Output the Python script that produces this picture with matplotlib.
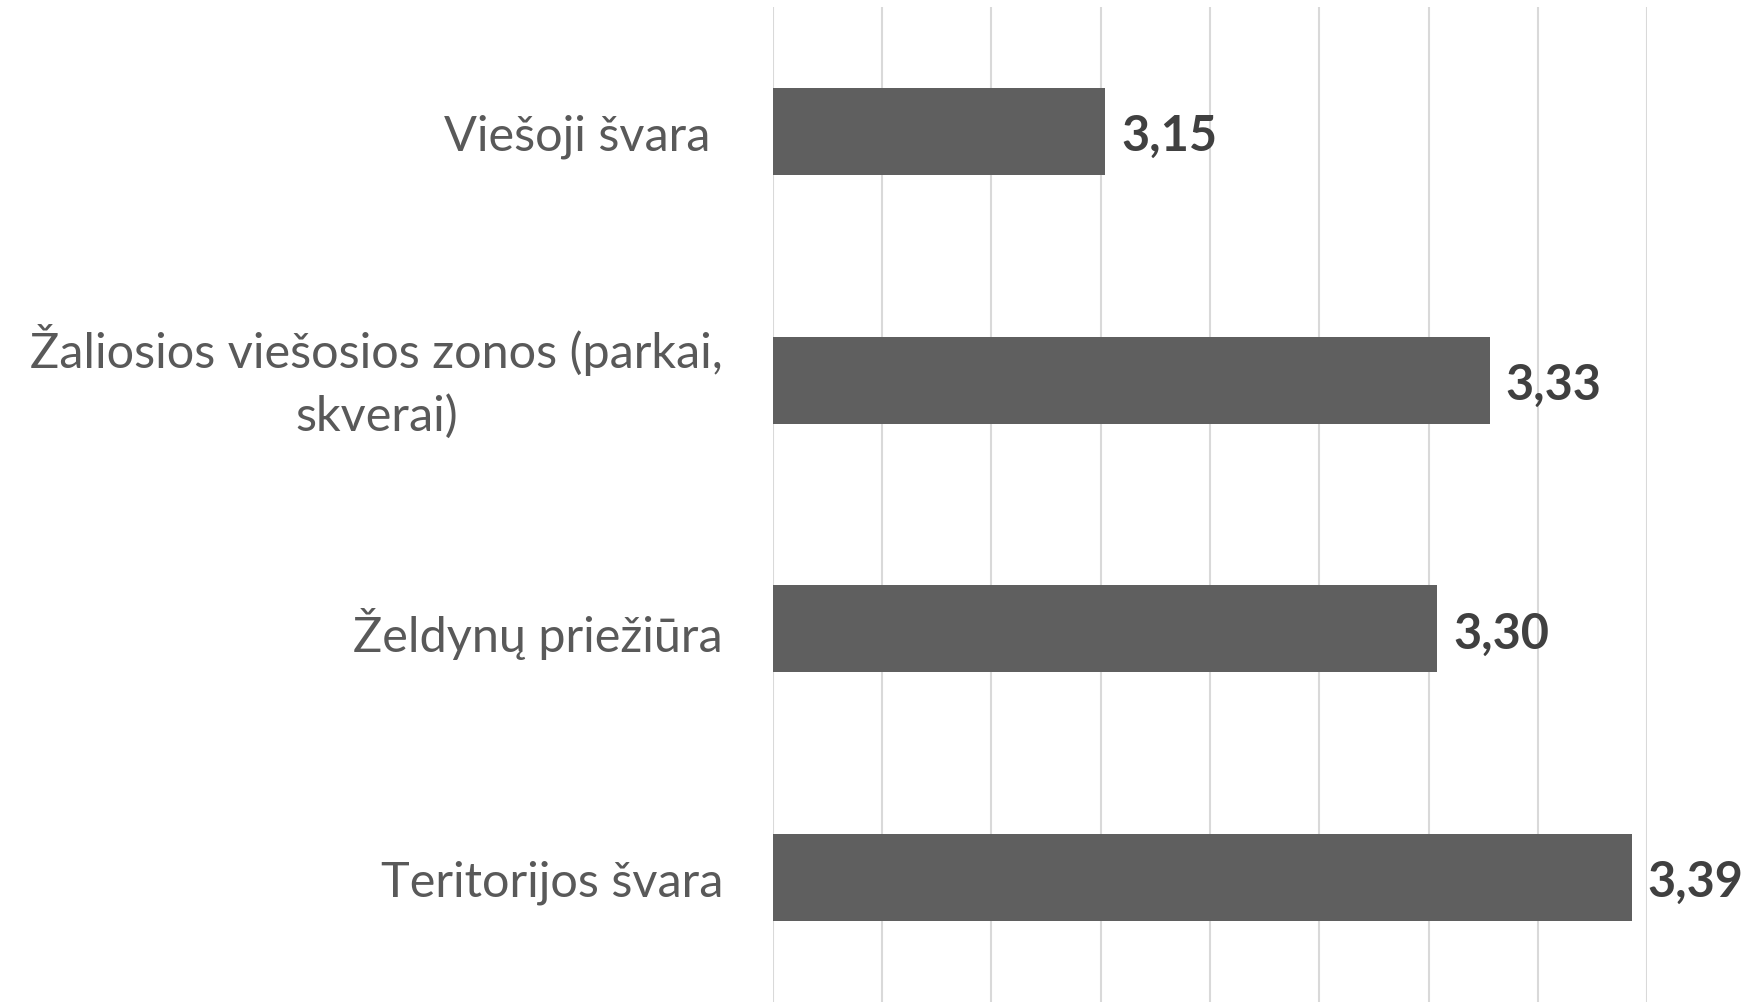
import numpy as np
import matplotlib.pyplot as plt

# Data
categories = ["Viešoji švara ", "Žaliosios viešosios zonos (parkai,\nskverai)",
              "Želdynų priežiūra", "Teritorijos švara"]
values = [3.152, 3.328, 3.304, 3.393]
labels = ["3,15", "3,33", "3,30", "3,39"]

bar_color = '#5f5f5f'
grid_color = '#d9d9d9'

plt.rcParams['font.family'] = ['Lato', 'DejaVu Sans']

fig = plt.figure(figsize=(17.44, 10.03), dpi=100)
ax = fig.add_axes([0.4432, 0.0, 0.5012, 0.992])

y = np.arange(len(categories))
ax.barh(y, np.array(values) - 3.0, left=3.0, height=0.35, color=bar_color, zorder=3)

# value labels next to bars
for yi, v, lab in zip(y, values, labels):
    ax.annotate(lab, xy=(v, yi), xytext=(11.5, -3), textcoords='offset points',
                va='center', ha='left', fontsize=35, fontweight='bold',
                color='#404040', annotation_clip=False)

ax.set_xlim(3.0, 3.4)
ax.set_ylim(3.5, -0.5)
ax.set_xticks(np.arange(3.0, 3.4001, 0.05))
ax.set_xticklabels([])
ax.tick_params(axis='x', length=0)
ax.grid(axis='x', color=grid_color, linewidth=1.5, zorder=0)

ax.set_yticks(y)
ax.set_yticklabels(categories, fontsize=35, color='#595959')
ax.tick_params(axis='y', length=0, pad=36)
for t in ax.get_yticklabels():
    t.set_multialignment('center')
    t.set_linespacing(1.5)
    if '\n' in t.get_text():
        t.set_verticalalignment('center')

for s in ax.spines.values():
    s.set_visible(False)

plt.savefig('out.png', dpi=100)
